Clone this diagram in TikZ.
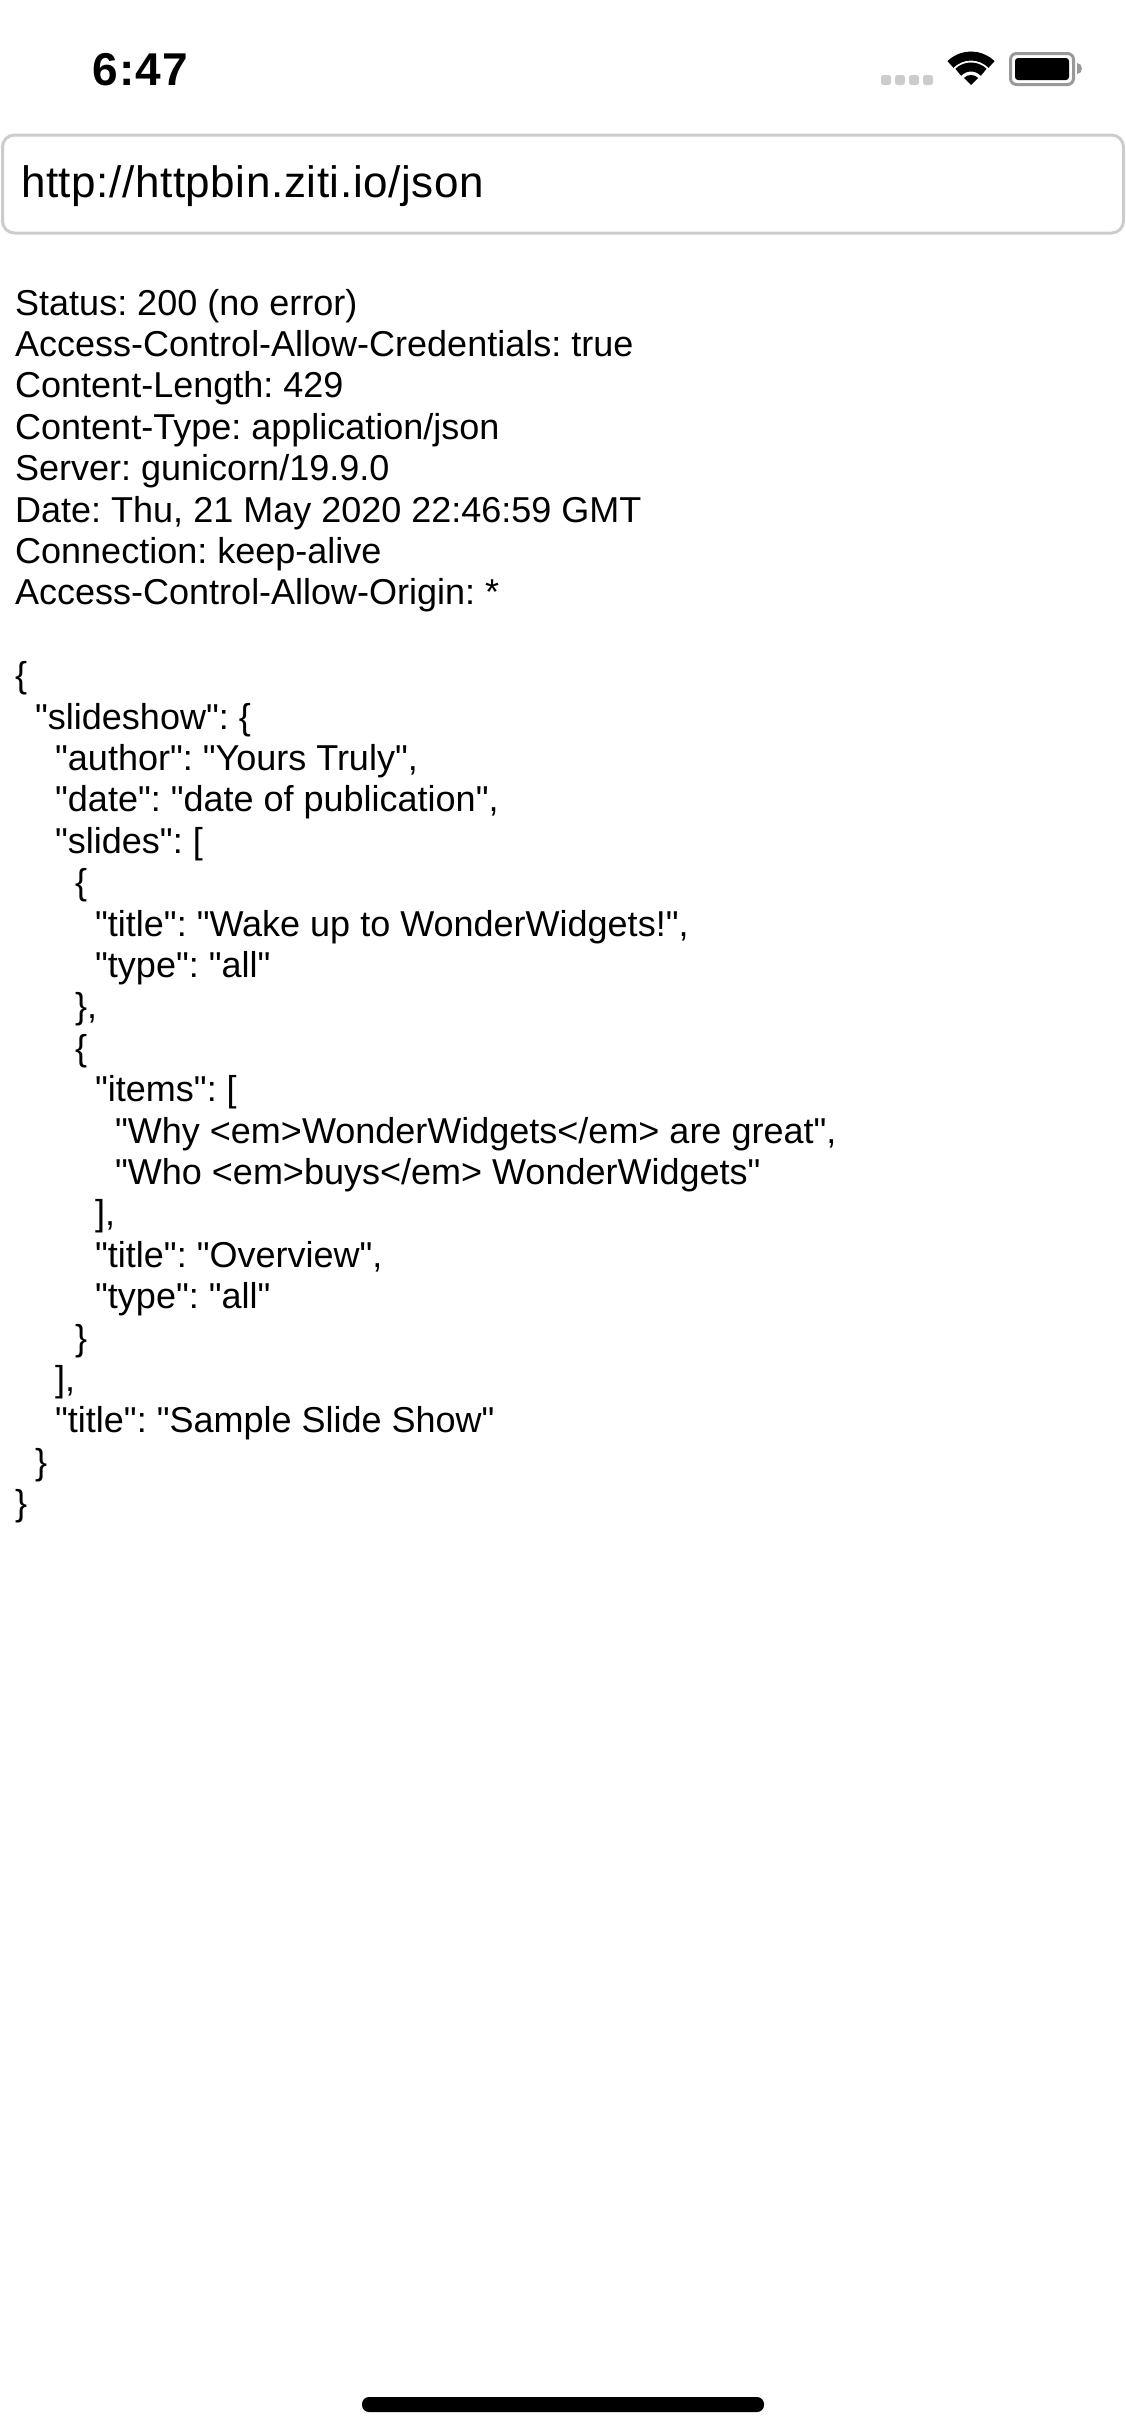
\documentclass[tikz,border=0pt]{standalone}
\usepackage{fontspec}
\setmainfont{Liberation Sans}[Ligatures=TeXOff]
\usepackage{tikz}
\definecolor{BarGray}{HTML}{CCCCCC}
\definecolor{BattGray}{HTML}{999999}
\begin{document}
\begin{tikzpicture}[x=1pt,y=1pt,
 txt/.style={anchor=base west,inner sep=0pt,font=\frenchspacing\fontsize{36}{41}\selectfont},
 clock/.style={anchor=base west,inner sep=0pt,font=\bfseries\fontsize{46}{50}\selectfont\addfontfeature{LetterSpace=3}},
 urlbox/.style={draw=BarGray,line width=3pt,fill=white,rounded corners=12pt,anchor=north west,
  minimum width=1121pt,minimum height=98pt,inner sep=0pt},
 urltxt/.style={anchor=base west,inner sep=0pt,font=\fontsize{44}{50}\selectfont\addfontfeature{LetterSpace=1.3}},
 sigdot/.style={fill=BarGray,rounded corners=2.5pt,minimum width=10pt,minimum height=10pt,inner sep=0pt},
 wifi/.style={line width=9pt}]
 \useasboundingbox (0,0) rectangle (1125,-2436);
 % status bar
 \node[clock] (time) at (92,-85) {6:47};
 \node[sigdot] (dota) at (886,-80) {};
 \node[sigdot] (dotb) at (900,-80) {};
 \node[sigdot] (dotc) at (914,-80) {};
 \node[sigdot] (dotd) at (928,-80) {};
 \draw[wifi] (971,-85) ++(45:29) arc (45:135:29);
 \draw[wifi] (971,-85) ++(45:18) arc (45:135:18);
 \fill (971,-85) -- ++(45:10) arc (45:135:10) -- cycle;
 \draw[draw=BattGray,line width=3pt,rounded corners=6pt] (1010.5,-53.5) rectangle (1073.5,-84.5);
 \fill[rounded corners=3pt] (1015,-58) rectangle (1069,-80);
 \fill[BattGray] (1077,-63) arc (90:-90:5 and 5.5) -- cycle;
 % address bar
 \node[urlbox] (bar) at (1,-133.5) {};
 \node[urltxt] (url) at (21,-197) {http://httpbin.ziti.io/json};
 % response headers
 \node[txt] (status) at (15,-315) {Status: 200 (no error)};
 \node[txt] (creds) at (15,-356.4) {Access-Control-Allow-Credentials: true};
 \node[txt] (length) at (15,-397.8) {Content-Length: 429};
 \node[txt] (type) at (15,-439.2) {Content-Type: application/json};
 \node[txt] (server) at (15,-480.6) {Server: gunicorn/19.9.0};
 \node[txt] (date) at (15,-522) {Date: Thu, 21 May 2020 22:46:59 GMT};
 \node[txt] (conn) at (15,-563.4) {Connection: keep-alive};
 \node[txt] (origin) at (15,-604.8) {Access-Control-Allow-Origin: *};
 % response body
 \node[txt] (open) at (15,-687.6) {\{};
 \node[txt] (show) at (35,-729) {"slideshow": \{};
 \node[txt] (author) at (55,-770.4) {"author": "Yours Truly",};
 \node[txt] (pub) at (55,-811.8) {"date": "date of publication",};
 \node[txt] (slides) at (55,-853.2) {"slides": [};
 \node[txt] (opena) at (75,-894.6) {\{};
 \node[txt] (titlea) at (95,-936) {"title": "Wake up to WonderWidgets!",};
 \node[txt] (typea) at (95,-977.4) {"type": "all"};
 \node[txt] (closea) at (75,-1018.8) {\},};
 \node[txt] (openb) at (75,-1060.2) {\{};
 \node[txt] (items) at (95,-1101.6) {"items": [};
 \node[txt] (why) at (115,-1143) {"Why <em>WonderWidgets</em> are great",};
 \node[txt] (who) at (115,-1184.4) {"Who <em>buys</em> WonderWidgets"};
 \node[txt] (enditems) at (95,-1225.8) {],};
 \node[txt] (titleb) at (95,-1267.2) {"title": "Overview",};
 \node[txt] (typeb) at (95,-1308.6) {"type": "all"};
 \node[txt] (closeb) at (75,-1350) {\}};
 \node[txt] (endslides) at (55,-1391.4) {],};
 \node[txt] (titlec) at (55,-1432.8) {"title": "Sample Slide Show"};
 \node[txt] (closeshow) at (35,-1474.2) {\}};
 \node[txt] (close) at (15,-1515.6) {\}};
 % home indicator
 \fill[rounded corners=7pt] (362,-2397) rectangle (764,-2412);
\end{tikzpicture}
\end{document}
